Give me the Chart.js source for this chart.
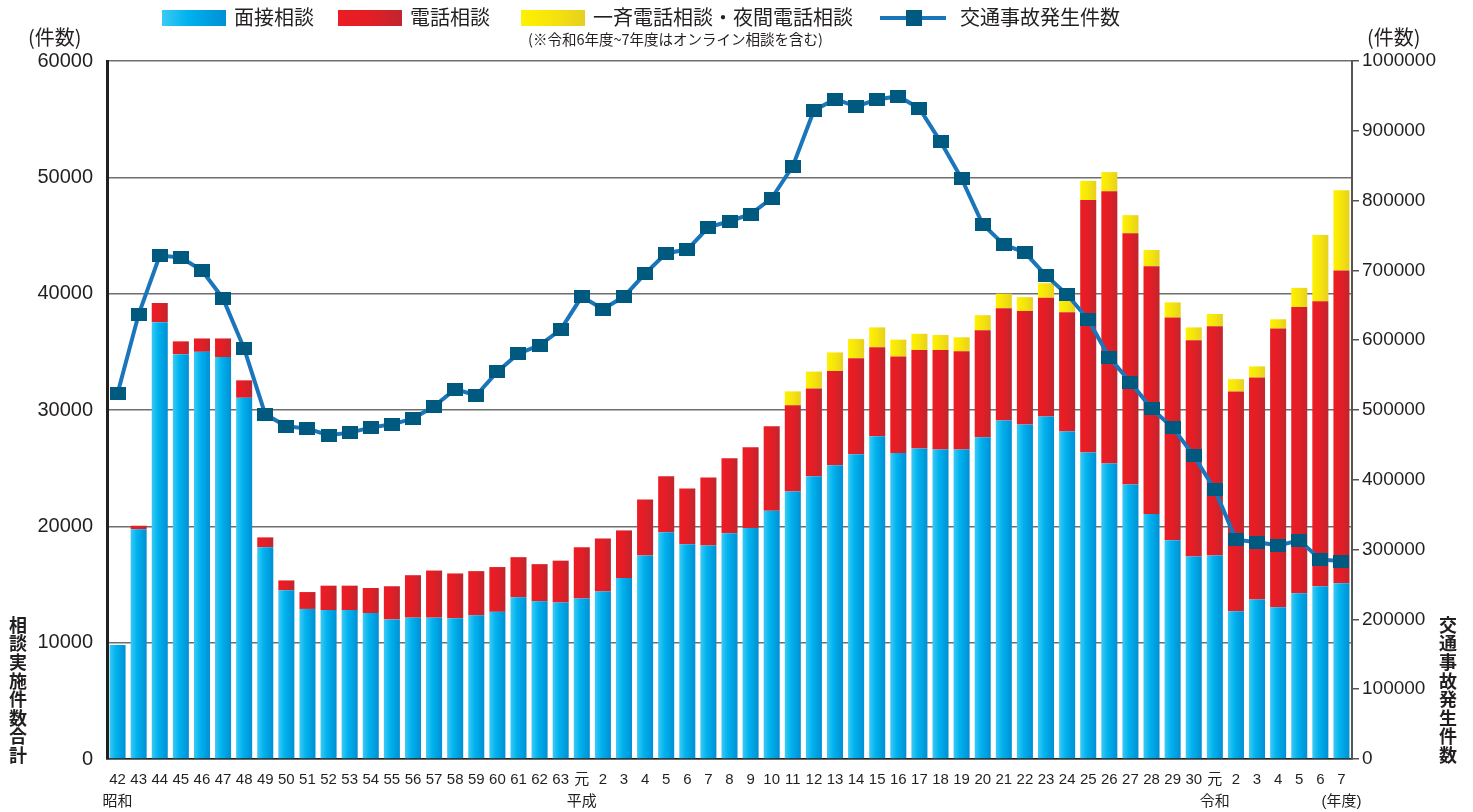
<!DOCTYPE html>
<html lang="ja">
<head>
<meta charset="UTF-8">
<title>交通事故相談件数と交通事故発生件数</title>
<script src="https://cdn.jsdelivr.net/npm/chart.js@4.4.1/dist/chart.umd.min.js"></script>
<style>
  body { margin: 0; background: #fff; }
  .wrap { position: relative; width: 1473px; height: 812px; color: #231f20;
          font-family: "Noto Sans CJK JP", "Noto Sans", sans-serif; }
  canvas { position: absolute; left: 0; top: 0; }
  .abs { position: absolute; white-space: nowrap; line-height: 1; }
  .swatch { position: absolute; width: 64px; height: 16px; top: 10px; }
  .legend-text { font-size: 20px; top: 7px; }
  .note { font-size: 14.5px; top: 32px; left: 528px; }
  .unit { font-size: 20px; top: 27px; }
  .vtitle { writing-mode: vertical-rl; text-orientation: upright; font-size: 18px;
            font-weight: bold; letter-spacing: 0.6px; top: 616px; }
</style>
</head>
<body>
<div class="wrap">
  <canvas id="chart" width="1473" height="812"></canvas>

  <!-- LEGEND -->
  <div class="swatch" style="left:162px; background:linear-gradient(to right,#3ccaf5,#00b2ee 40%,#0090d4);"></div>
  <div class="abs legend-text" style="left:234px;">面接相談</div>
  <div class="swatch" style="left:338px; background:linear-gradient(to right,#ec1c24,#e31e26 50%,#bf262e);"></div>
  <div class="abs legend-text" style="left:410px;">電話相談</div>
  <div class="swatch" style="left:521px; background:linear-gradient(to right,#fff100,#f5e40c 50%,#e6d020);"></div>
  <div class="abs legend-text" style="left:593px;">一斉電話相談・夜間電話相談</div>
  <div class="abs note">(※令和6年度~7年度はオンライン相談を含む)</div>
  <div class="abs" style="left:880px; top:16px; width:66px; height:4px; background:#1a75bb;"></div>
  <div class="abs" style="left:906px; top:10px; width:16px; height:16px; background:#005a7f;"></div>
  <div class="abs legend-text" style="left:960px;">交通事故発生件数</div>

  <!-- AXIS UNITS AND TITLES -->
  <div class="abs unit" style="left:28px;">(件数)</div>
  <div class="abs unit" style="left:1367px;">(件数)</div>
  <div class="abs vtitle" style="left:9px;">相談実施件数合計</div>
  <div class="abs vtitle" style="left:1439px;">交通事故発生件数</div>
</div>

<script>
// DATA

// 昭和42〜63, 平成元〜30, 令和元〜7
const yearLabels = [
  "42", "43", "44", "45", "46", "47", "48", "49", "50", "51", "52",
  "53", "54", "55", "56", "57", "58", "59", "60", "61", "62", "63",
  "元", "2", "3", "4", "5", "6", "7", "8", "9", "10", "11", "12", "13", "14", "15",
  "16", "17", "18", "19", "20", "21", "22", "23", "24", "25", "26", "27", "28", "29", "30",
  "元", "2", "3", "4", "5", "6", "7"
];

// second line under some year labels
const eraLabels = { 0: "昭和", 22: "平成", 52: "令和", 58: "(年度)" };

const faceToFace = [
  9800, 19750, 37550, 34800, 35000, 34550, 31050, 18200, 14500, 12900, 12800,
  12800, 12550, 12000, 12150, 12150, 12100, 12350, 12650, 13900, 13550, 13450,
  13800, 14400, 15550, 17500, 19500, 18450, 18350, 19400, 19850, 21350, 23000, 24300, 25250, 26200, 27750,
  26300, 26700, 26600, 26600, 27650, 29100, 28750, 29450, 28150, 26350, 25400, 23600, 21050, 18800, 17400,
  17500, 12700, 13700, 13050, 14250, 14850, 15100
];

const phone = [
  0, 300, 1650, 1100, 1150, 1600, 1500, 850, 850, 1450, 2100,
  2100, 2150, 2850, 3650, 4050, 3850, 3800, 3850, 3450, 3200, 3600,
  4400, 4550, 4100, 4800, 4800, 4800, 5850, 6450, 6950, 7250, 7400, 7550, 8100, 8250, 7650,
  8300, 8450, 8550, 8450, 9200, 9650, 9750, 10200, 10250, 21700, 23400, 21600, 21300, 19150, 18600,
  19700, 18900, 19100, 23950, 24600, 24500, 26900
];

const nightPhone = [
  0, 0, 0, 0, 0, 0, 0, 0, 0, 0, 0,
  0, 0, 0, 0, 0, 0, 0, 0, 0, 0, 0,
  0, 0, 0, 0, 0, 0, 0, 0, 0, 0, 1200, 1450, 1600, 1650, 1700,
  1450, 1400, 1300, 1200, 1300, 1250, 1200, 1250, 1350, 1650, 1650, 1550, 1400, 1300, 1100,
  1050, 1050, 950, 800, 1650, 5700, 6900
];

const accidents = [
  523500, 637100, 721300, 718400, 699800, 659600, 588000, 493800, 476600, 473300, 463800,
  467600, 474800, 479500, 487700, 505300, 529700, 521100, 555000, 580800, 592700, 615200,
  662500, 644300, 662500, 695500, 724600, 729900, 761800, 770400, 780500, 803400, 849300, 929100, 945300, 934800, 944800,
  949600, 931900, 884600, 831600, 766100, 737000, 725600, 692600, 665400, 629600, 575100, 539700, 502000, 474800, 434700,
  385900, 314300, 310400, 306100, 313300, 286000, 283200
];

const leftTicks = [0, 10000, 20000, 30000, 40000, 50000, 60000];
const rightTicks = [0, 100000, 200000, 300000, 400000, 500000, 600000, 700000, 800000, 900000, 1000000];


// STYLES

const BAR_PCT = 0.76;
const tickFont = "'Liberation Sans', Arial, 'Noto Sans CJK JP', sans-serif";

const blueStops = [[0, "#3ccaf5"], [0.4, "#00b2ee"], [1, "#0090d4"]];
const redStops = [[0, "#ec1c24"], [0.5, "#e31e26"], [1, "#bf262e"]];
const yellowStops = [[0, "#fff100"], [0.5, "#f5e40c"], [1, "#e6d020"]];

// each bar gets its own left-to-right gradient
function barGradient(stops) {
  return function (ctx) {
    const chart = ctx.chart;
    const xScale = chart.scales.x;
    if (ctx.type !== "data" || !xScale) return stops[1][1];
    const x = xScale.getPixelForValue(ctx.dataIndex);
    const half = (xScale.width / yearLabels.length) * BAR_PCT / 2;
    if (!isFinite(x) || !isFinite(half) || half <= 0) return stops[1][1];
    const g = chart.ctx.createLinearGradient(x - half, 0, x + half, 0);
    stops.forEach(s => g.addColorStop(s[0], s[1]));
    return g;
  };
}

// square marker, a bit wider than tall
const marker = document.createElement("canvas");
marker.width = 16;
marker.height = 13;
const mctx = marker.getContext("2d");
mctx.fillStyle = "#005a7f";
mctx.fillRect(0, 0, 16, 13);


// CHART

const labels = yearLabels.map((y, i) => eraLabels[i] ? [y, eraLabels[i]] : y);

new Chart(document.getElementById("chart").getContext("2d"), {
  data: {
    labels,
    datasets: [
      {
        type: "line",
        label: "交通事故発生件数",
        data: accidents,
        yAxisID: "y2",
        borderColor: "#1a75bb",
        borderWidth: 4,
        tension: 0,
        pointStyle: marker,
        pointRadius: 8,
        order: 0
      },
      {
        type: "bar",
        label: "面接相談",
        data: faceToFace,
        backgroundColor: barGradient(blueStops),
        barPercentage: BAR_PCT,
        categoryPercentage: 1,
        order: 1
      },
      {
        type: "bar",
        label: "電話相談",
        data: phone,
        backgroundColor: barGradient(redStops),
        barPercentage: BAR_PCT,
        categoryPercentage: 1,
        order: 1
      },
      {
        type: "bar",
        label: "一斉電話相談・夜間電話相談",
        data: nightPhone,
        backgroundColor: barGradient(yellowStops),
        barPercentage: BAR_PCT,
        categoryPercentage: 1,
        order: 1
      }
    ]
  },
  options: {
    responsive: false,
    animation: false,
    layout: { padding: { top: 61, left: 0, right: 0, bottom: 0 } },
    plugins: {
      legend: { display: false },
      tooltip: { enabled: false }
    },
    scales: {
      x: {
        stacked: true,
        grid: { display: false, drawTicks: false },
        border: { display: true, color: "#231f20", width: 1.5 },
        ticks: {
          autoSkip: false,
          maxRotation: 0,
          minRotation: 0,
          padding: 10,
          color: "#231f20",
          font: { family: tickFont, size: 15, lineHeight: 1.45 }
        },
        afterFit(scale) { scale.height = 53; }
      },
      y: {
        position: "left",
        stacked: true,
        min: 0,
        max: 60000,
        afterBuildTicks(scale) { scale.ticks = leftTicks.map(v => ({ value: v })); },
        grid: { color: "#6e6e6e", lineWidth: 1.5, drawTicks: false },
        border: { color: "#231f20", width: 3 },
        ticks: {
          padding: 14,
          color: "#231f20",
          font: { family: tickFont, size: 20 },
          callback: v => String(v)
        },
        afterFit(scale) { scale.width = 107; }
      },
      y2: {
        position: "right",
        min: 0,
        max: 1000000,
        afterBuildTicks(scale) { scale.ticks = rightTicks.map(v => ({ value: v })); },
        grid: { drawOnChartArea: false, tickLength: 7, color: "#555", lineWidth: 1.5 },
        border: { color: "#555", width: 2 },
        ticks: {
          padding: 3,
          color: "#231f20",
          font: { family: tickFont, size: 19 },
          callback: v => String(v)
        },
        afterFit(scale) { scale.width = 121; }
      }
    }
  }
});
</script>
</body>
</html>
